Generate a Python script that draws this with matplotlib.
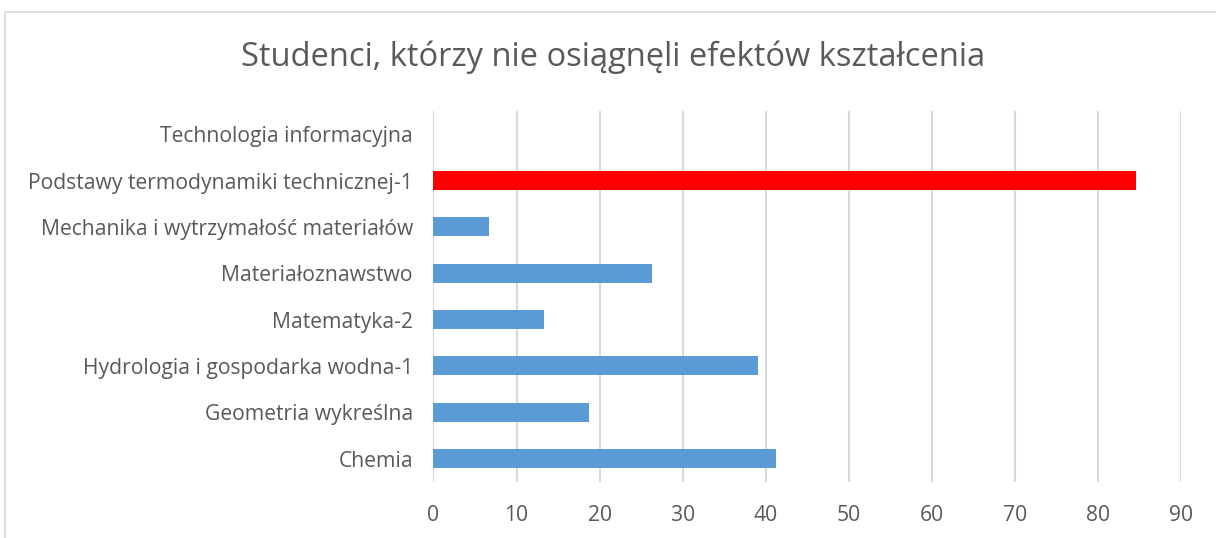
import matplotlib
matplotlib.use("Agg")
import matplotlib.pyplot as plt
from matplotlib.patches import Rectangle

# data (bottom to top)
subjects = [
    "Chemia",
    "Geometria wykreślna",
    "Hydrologia i gospodarka wodna-1",
    "Matematyka-2",
    "Materiałoznawstwo",
    "Mechanika i wytrzymałość materiałów",
    "Podstawy termodynamiki technicznej-1",
    "Technologia informacyjna",
]
percent_failed = [41.2, 18.7, 39.1, 13.3, 26.3, 6.7, 84.6, 0]
highlight = "Podstawy termodynamiki technicznej-1"
x_ticks = [0, 10, 20, 30, 40, 50, 60, 70, 80, 90]

plt.rcParams['font.family'] = ['Open Sans', 'DejaVu Sans']

fig = plt.figure(figsize=(12.16, 5.38), dpi=100)
ax = fig.add_axes([433.5 / 1216, 56.3 / 538, (1181 - 433.5) / 1216, (427 - 56.3) / 538])

colors = ['#FF0000' if s == highlight else '#5B9BD5' for s in subjects]
ax.barh(subjects, percent_failed, height=0.41, color=colors, zorder=3)

ax.set_xlim(0, 90)
ax.set_ylim(-0.5, len(subjects) - 0.5)
ax.set_xticks(x_ticks)
ax.grid(axis='x', color='#D9D9D9', linewidth=1.5, zorder=0)
for s in ax.spines.values():
    s.set_visible(False)
ax.tick_params(axis='both', length=0, colors='#595959', labelsize=15.2)
ax.tick_params(axis='y', pad=14.8)
ax.tick_params(axis='x', pad=17)

fig.text(613 / 1216, 1 - 57 / 538, "Studenci, którzy nie osiągnęli efektów kształcenia",
         ha='center', va='center', fontsize=23.5, color='#595959')

# chart border like in the spreadsheet export (cut at right/bottom)
fig.patches.append(Rectangle((5 / 1216, -0.1), 1.2, 1 - 12 / 538 + 0.1,
                             transform=fig.transFigure, fill=False,
                             edgecolor='#D9D9D9', linewidth=1.2))

fig.savefig("out.png", dpi=100, facecolor='white')
